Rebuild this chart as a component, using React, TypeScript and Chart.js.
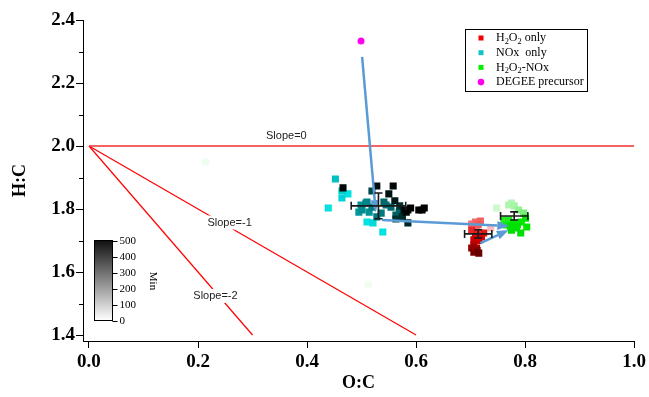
import React, { useEffect, useRef } from "react";
import { Chart, registerables } from "chart.js";

Chart.register(...registerables);

// ---- axis ticks ----
const xTickValues = [0, 0.2, 0.4, 0.6, 0.8, 1.0];
const yTickValues = [1.4, 1.6, 1.8, 2.0, 2.2, 2.4];
const yMinorTickValues = [1.5, 1.7, 1.9, 2.1, 2.3];
const colorbarTickValues = [0, 100, 200, 300, 400, 500];

// ---- reference slope lines ----
const slope0X = [0, 1.0];
const slope0Y = [2.0, 2.0];
const slopeM1X = [0, 0.6];
const slopeM1Y = [2.0, 1.4];
const slopeM2X = [0, 0.3];
const slopeM2Y = [2.0, 1.4];
const slopeLabels = ["Slope=0", "Slope=-1", "Slope=-2"];
const slopeLabelX = [0.362, 0.258, 0.232];
const slopeLabelY = [2.032, 1.757, 1.524];

// ---- H2O2 only (O:C, H:C, minutes) ----
const h2o2OC = [0.737, 0.702, 0.709, 0.718, 0.714, 0.702, 0.711, 0.724, 0.709, 0.72, 0.706, 0.715, 0.706, 0.711, 0.702, 0.712, 0.706, 0.715];
const h2o2HC = [1.740, 1.752, 1.759, 1.762, 1.750, 1.733, 1.727, 1.724, 1.711, 1.711, 1.702, 1.700, 1.686, 1.676, 1.676, 1.668, 1.663, 1.660];
const h2o2Min = [40, 100, 110, 120, 130, 200, 220, 230, 250, 260, 290, 300, 350, 380, 400, 440, 470, 490];

// ---- NOx only ----
const noxOC = [0.439, 0.475, 0.510, 0.539, 0.464, 0.521, 0.464, 0.452, 0.495, 0.499, 0.514, 0.501, 0.528, 0.508, 0.510, 0.536, 0.519, 0.545, 0.554, 0.541, 0.569, 0.563, 0.519, 0.570, 0.575, 0.563, 0.585, 0.561, 0.550, 0.528, 0.578, 0.466, 0.558, 0.582, 0.585, 0.590, 0.605, 0.611, 0.615];
const noxHC = [1.803, 1.848, 1.759, 1.727, 1.835, 1.756, 1.857, 1.895, 1.790, 1.813, 1.790, 1.797, 1.775, 1.819, 1.822, 1.787, 1.806, 1.813, 1.806, 1.822, 1.790, 1.781, 1.857, 1.810, 1.775, 1.768, 1.756, 1.826, 1.848, 1.873, 1.797, 1.867, 1.873, 1.790, 1.797, 1.803, 1.797, 1.797, 1.803];
const noxMin = [140, 140, 140, 140, 160, 150, 170, 190, 250, 260, 260, 270, 300, 300, 280, 300, 290, 310, 320, 330, 330, 340, 380, 420, 430, 420, 440, 460, 470, 480, 480, 490, 490, 490, 490, 500, 500, 500, 500];

// ---- H2O2-NOx ----
const mixOC = [0.214, 0.512, 0.748, 0.775, 0.770, 0.780, 0.788, 0.797, 0.761, 0.770, 0.766, 0.779, 0.793, 0.801, 0.803, 0.786, 0.784, 0.775, 0.773, 0.792];
const mixHC = [1.949, 1.559, 1.803, 1.819, 1.813, 1.810, 1.797, 1.787, 1.765, 1.765, 1.749, 1.756, 1.759, 1.771, 1.743, 1.750, 1.740, 1.733, 1.745, 1.724];
const mixMin = [5, 5, 40, 70, 80, 90, 120, 150, 250, 260, 280, 300, 310, 320, 350, 360, 380, 400, 400, 420];

// ---- DEGEE precursor ----
const degeeOC = [0.499];
const degeeHC = [2.333];

// ---- arrows ----
const arrowFromOC = [0.501, 0.5375, 0.718];
const arrowFromHC = [2.283, 1.765, 1.692];
const arrowToOC = [0.526, 0.771, 0.770];
const arrowToHC = [1.790, 1.746, 1.733];

// ---- error bars (mean ± sd) ----
const meanOC = [0.531, 0.714, 0.780];
const meanHC = [1.810, 1.721, 1.778];
const sdOC = [0.05, 0.025, 0.025];
const sdHC = [0.041, 0.013, 0.013];

const legendLabels = ["H2O2 only", "NOx  only", "H2O2-NOx", "DEGEE precursor"];

type Stop = [number, number[]];
function ramp(stops: Stop[], t: number): string {
  if (t <= stops[0][0]) return `rgb(${stops[0][1].join(",")})`;
  for (let i = 1; i < stops.length; i++) {
    if (t <= stops[i][0]) {
      const [t0, c0] = stops[i - 1];
      const [t1, c1] = stops[i];
      const f = (t - t0) / (t1 - t0);
      const c = c0.map((v, k) => Math.round(v + (c1[k] - v) * f));
      return `rgb(${c.join(",")})`;
    }
  }
  return `rgb(${stops[stops.length - 1][1].join(",")})`;
}
const redStops: Stop[] = [[0, [255, 235, 235]], [100, [245, 110, 110]], [260, [225, 0, 0]], [500, [100, 0, 0]]];
const cyanStops: Stop[] = [[0, [225, 255, 255]], [140, [0, 225, 225]], [300, [0, 120, 125]], [420, [0, 50, 50]], [500, [0, 0, 0]]];
const greenStops: Stop[] = [[0, [244, 255, 244]], [40, [205, 250, 205]], [150, [120, 240, 120]], [300, [0, 232, 0]], [500, [0, 215, 0]]];

const SERIF = '"Liberation Serif", "Times New Roman", serif';
const SANS = '"Liberation Sans", Arial, sans-serif';

function toPts(xs: number[], ys: number[]) {
  return xs.map((v, i) => ({ x: v, y: ys[i] }));
}

function drawRich(ctx: CanvasRenderingContext2D, text: string, x: number, y: number, size: number) {
  // digits are drawn as subscripts (chemical formulae)
  let cx = x;
  const parts = text.split(/(\d)/).filter((s) => s.length);
  for (const p of parts) {
    if (/^\d$/.test(p)) {
      ctx.font = `${size * 0.7}px ${SERIF}`;
      ctx.fillText(p, cx, y + size * 0.28);
    } else {
      ctx.font = `${size}px ${SERIF}`;
      ctx.fillText(p, cx, y);
    }
    cx += ctx.measureText(p).width;
  }
}

const overlayPlugin = {
  id: "overlay",
  afterDatasetsDraw(chart: any) {
    const { ctx } = chart;
    const xs = chart.scales.x;
    const ys = chart.scales.y;
    const px = (v: number) => xs.getPixelForValue(v);
    const py = (v: number) => ys.getPixelForValue(v);
    ctx.save();
    ctx.font = `11px ${SANS}`;
    ctx.textAlign = "center";
    ctx.textBaseline = "middle";
    slopeLabels.forEach((t, i) => {
      const x = px(slopeLabelX[i]);
      const y = py(slopeLabelY[i]);
      const w = ctx.measureText(t).width;
      ctx.fillStyle = "#fff";
      ctx.fillRect(x - w / 2 - 2, y - 7, w + 4, 14);
      ctx.fillStyle = "#222";
      ctx.fillText(t, x, y);
    });
    ctx.strokeStyle = "#5b9bd5";
    ctx.fillStyle = "#5b9bd5";
    ctx.lineWidth = 2.5;
    for (let i = 0; i < arrowFromOC.length; i++) {
      const x0 = px(arrowFromOC[i]);
      const y0 = py(arrowFromHC[i]);
      const x1 = px(arrowToOC[i]);
      const y1 = py(arrowToHC[i]);
      const a = Math.atan2(y1 - y0, x1 - x0);
      const hl = 12;
      const hw = 4.5;
      const bx = x1 - hl * Math.cos(a);
      const by = y1 - hl * Math.sin(a);
      ctx.beginPath();
      ctx.moveTo(x0, y0);
      ctx.lineTo(bx, by);
      ctx.stroke();
      ctx.beginPath();
      ctx.moveTo(x1, y1);
      ctx.lineTo(bx + hw * Math.sin(a), by - hw * Math.cos(a));
      ctx.lineTo(bx - hw * Math.sin(a), by + hw * Math.cos(a));
      ctx.closePath();
      ctx.fill();
    }
    ctx.strokeStyle = "#1a1a1a";
    ctx.lineWidth = 1.6;
    for (let i = 0; i < meanOC.length; i++) {
      const cx = px(meanOC[i]);
      const cy = py(meanHC[i]);
      const xl = px(meanOC[i] - sdOC[i]);
      const xr = px(meanOC[i] + sdOC[i]);
      const yt = py(meanHC[i] + sdHC[i]);
      const yb = py(meanHC[i] - sdHC[i]);
      const cap = 4;
      ctx.beginPath();
      ctx.moveTo(xl, cy); ctx.lineTo(xr, cy);
      ctx.moveTo(xl, cy - cap); ctx.lineTo(xl, cy + cap);
      ctx.moveTo(xr, cy - cap); ctx.lineTo(xr, cy + cap);
      ctx.moveTo(cx, yt); ctx.lineTo(cx, yb);
      ctx.moveTo(cx - cap, yt); ctx.lineTo(cx + cap, yt);
      ctx.moveTo(cx - cap, yb); ctx.lineTo(cx + cap, yb);
      ctx.stroke();
    }
    ctx.restore();
  },
  afterDraw(chart: any) {
    const { ctx } = chart;
    const ys = chart.scales.y;
    const left = chart.chartArea.left;
    ctx.save();
    ctx.strokeStyle = "#000";
    ctx.lineWidth = 1;
    yMinorTickValues.forEach((v) => {
      const y = Math.round(ys.getPixelForValue(v)) + 0.5;
      ctx.beginPath();
      ctx.moveTo(left - 4, y);
      ctx.lineTo(left, y);
      ctx.stroke();
    });

    const lx = 465.5, ly = 29.5, lw = 122, lh = 62;
    ctx.fillStyle = "#fff";
    ctx.fillRect(lx, ly, lw, lh);
    ctx.strokeStyle = "#000";
    ctx.lineWidth = 1;
    ctx.strokeRect(lx, ly, lw, lh);
    const markerColors = ["#f00000", "#10c4c8", "#00f000", "#ff00ee"];
    ctx.textBaseline = "middle";
    ctx.textAlign = "left";
    legendLabels.forEach((t, i) => {
      const yy = 38 + i * 14.7;
      ctx.fillStyle = markerColors[i];
      if (i === 3) {
        ctx.beginPath();
        ctx.arc(481, yy, 3.3, 0, Math.PI * 2);
        ctx.fill();
      } else {
        ctx.fillRect(478.5, yy - 2.5, 5, 5);
      }
      ctx.fillStyle = "#000";
      drawRich(ctx, t, 496, yy, 12);
    });

    const cbx = 94.5, cby = 240.5, cbw = 18, cbh = 80;
    const g = ctx.createLinearGradient(0, cby, 0, cby + cbh);
    g.addColorStop(0, "#111");
    g.addColorStop(1, "#fff");
    ctx.fillStyle = g;
    ctx.fillRect(cbx, cby, cbw, cbh);
    ctx.strokeStyle = "#000";
    ctx.strokeRect(cbx, cby, cbw, cbh);
    ctx.fillStyle = "#000";
    ctx.font = `11px ${SERIF}`;
    ctx.textAlign = "left";
    ctx.textBaseline = "middle";
    const maxT = colorbarTickValues[colorbarTickValues.length - 1];
    colorbarTickValues.forEach((v) => {
      const y = Math.round(cby + cbh - (v / maxT) * cbh) + 0.5;
      ctx.beginPath();
      ctx.moveTo(cbx + cbw, y);
      ctx.lineTo(cbx + cbw + 5, y);
      ctx.stroke();
      ctx.fillText(String(v), cbx + cbw + 7, y);
    });
    ctx.save();
    ctx.translate(153, 281);
    ctx.rotate(Math.PI / 2);
    ctx.textAlign = "center";
    ctx.fillText("Min", 0, 0);
    ctx.restore();
    ctx.restore();
  },
};

export default function App() {
  const ref = useRef<HTMLCanvasElement | null>(null);
  useEffect(() => {
    document.body.style.margin = "0";
    const canvas = ref.current;
    if (!canvas) return;
    const tickFont = { family: SERIF, size: 19, weight: "bold" as const };
    const sq = (stops: Stop[], times: number[]) => times.map((t) => ramp(stops, t));
    const chart = new Chart(canvas, {
      type: "scatter",
      data: {
        datasets: [
          {
            label: "DEGEE precursor",
            data: toPts(degeeOC, degeeHC),
            pointStyle: "circle",
            pointRadius: 3.5,
            pointBackgroundColor: "#ff00ee",
            pointBorderWidth: 0,
          },
          {
            label: "NOx only",
            data: toPts(noxOC, noxHC),
            pointStyle: "rect",
            pointRadius: 5,
            pointBackgroundColor: sq(cyanStops, noxMin),
            pointBorderWidth: 0,
          },
          {
            label: "H2O2 only",
            data: toPts(h2o2OC, h2o2HC),
            pointStyle: "rect",
            pointRadius: 5,
            pointBackgroundColor: sq(redStops, h2o2Min),
            pointBorderWidth: 0,
          },
          {
            label: "H2O2-NOx",
            data: toPts(mixOC, mixHC),
            pointStyle: "rect",
            pointRadius: 5,
            pointBackgroundColor: sq(greenStops, mixMin),
            pointBorderWidth: 0,
          },
          {
            label: "Slope=0",
            data: toPts(slope0X, slope0Y),
            showLine: true,
            borderColor: "#f23030",
            borderWidth: 1.5,
            pointRadius: 0,
          },
          {
            label: "Slope=-1",
            data: toPts(slopeM1X, slopeM1Y),
            showLine: true,
            borderColor: "#ff0000",
            borderWidth: 1.2,
            pointRadius: 0,
          },
          {
            label: "Slope=-2",
            data: toPts(slopeM2X, slopeM2Y),
            showLine: true,
            borderColor: "#ff0000",
            borderWidth: 1.2,
            pointRadius: 0,
          },
        ],
      },
      options: {
        responsive: false,
        animation: false,
        events: [],
        layout: { padding: { top: 20, right: 13, left: 0, bottom: 0 } },
        plugins: { legend: { display: false }, tooltip: { enabled: false } },
        scales: {
          x: {
            type: "linear",
            min: -0.011,
            max: 1.0,
            afterBuildTicks: (s: any) => {
              s.ticks = xTickValues.map((v) => ({ value: v }));
            },
            afterFit: (s: any) => {
              s.height = 56;
            },
            grid: { display: true, drawOnChartArea: false, drawTicks: true, tickLength: 7, tickColor: "#000", tickWidth: 1 },
            border: { display: true, color: "#000", width: 1 },
            ticks: {
              font: tickFont,
              color: "#000",
              padding: 3,
              maxRotation: 0,
              autoSkip: false,
              callback: (v: any) => Number(v).toFixed(1),
            },
            title: { display: true, text: "O:C", color: "#000", font: { family: SERIF, size: 18, weight: "bold" }, padding: { top: 0, bottom: 3 } },
          },
          y: {
            type: "linear",
            min: 1.381,
            max: 2.4,
            afterBuildTicks: (s: any) => {
              s.ticks = yTickValues.map((v) => ({ value: v }));
            },
            afterFit: (s: any) => {
              s.width = 83;
            },
            grid: { display: true, drawOnChartArea: false, drawTicks: true, tickLength: 7, tickColor: "#000", tickWidth: 1 },
            border: { display: true, color: "#000", width: 1 },
            ticks: {
              font: tickFont,
              color: "#000",
              padding: 1,
              autoSkip: false,
              callback: (v: any) => Number(v).toFixed(1),
            },
            title: { display: true, text: "H:C", color: "#000", font: { family: SERIF, size: 18, weight: "bold" }, padding: { top: 10, bottom: 0 } },
          },
        },
      },
      plugins: [overlayPlugin],
    });
    return () => chart.destroy();
  }, []);
  return (
    <div style={{ width: 649, height: 397 }}>
      <canvas ref={ref} width={649} height={397} style={{ display: "block" }} />
    </div>
  );
}
